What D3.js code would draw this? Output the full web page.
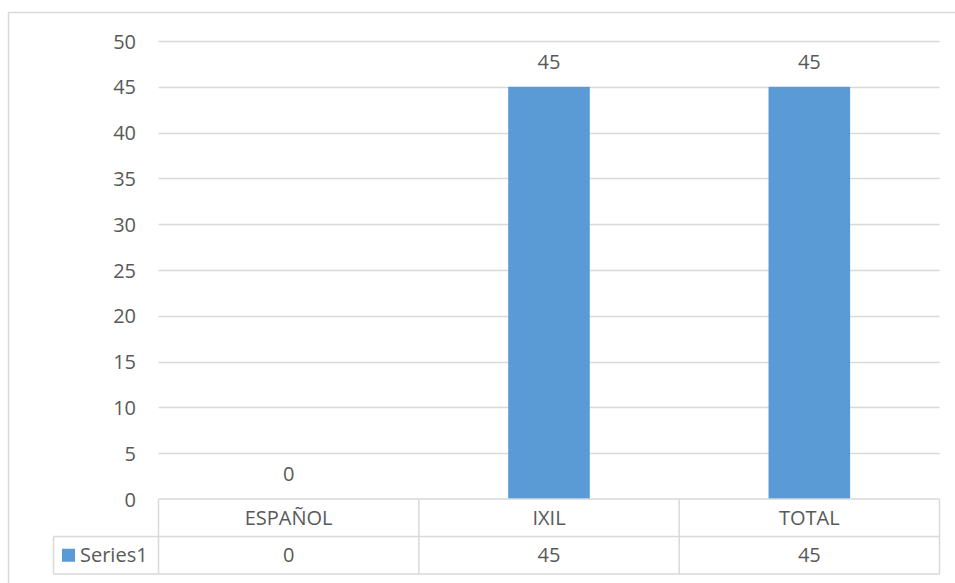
<!DOCTYPE html>
<html>
<head>
<meta charset="utf-8">
<script src="https://cdn.jsdelivr.net/npm/d3@7"></script>
<style>
  html, body { margin: 0; padding: 0; background: #fff; }
  svg { display: block; }
  text { font-family: "Open Sans", "Noto Sans", sans-serif; fill: #595959; }
</style>
</head>
<body>
<svg id="chart" width="955" height="583"></svg>
<script>
// Chart data
const categories = ["ESPAÑOL", "IXIL", "TOTAL"];
const seriesName = "Series1";
const seriesValues = [0, 45, 45];
const yTicks = [0, 5, 10, 15, 20, 25, 30, 35, 40, 45, 50];

const W = 955, H = 583;
const plot = { left: 158.5, right: 939.5, top: 41, bottom: 499 };
const rowH = 37.5;
const legendLeft = 53.5;
const gridColor = "#d9d9d9";
const barColor = "#5b9bd5";
const fontSize = 20;

const svg = d3.select("#chart");

// Chart area frame (right and bottom edges fall outside the view)
svg.append("rect")
  .attr("x", 8.5).attr("y", 12.5)
  .attr("width", W + 20).attr("height", H + 20)
  .attr("fill", "#fff").attr("stroke", gridColor).attr("stroke-width", 1.5);

const x = d3.scaleBand().domain(categories).range([plot.left, plot.right]).padding(0);
const y = d3.scaleLinear().domain([0, 50]).range([plot.bottom, plot.top]);

// Gridlines
svg.append("g").selectAll("line").data(yTicks.filter(t => t > 0)).join("line")
  .attr("x1", plot.left).attr("x2", plot.right)
  .attr("y1", d => Math.round(y(d)) + 0.5).attr("y2", d => Math.round(y(d)) + 0.5)
  .attr("stroke", gridColor).attr("stroke-width", 1.5);

// Y axis labels
const yAxis = d3.axisLeft(y).tickValues(yTicks).tickSize(0).tickPadding(0);
const yg = svg.append("g").attr("transform", `translate(136,0)`).call(yAxis);
yg.select(".domain").remove();
yg.selectAll("text")
  .attr("font-size", fontSize)
  .attr("font-family", "Open Sans, Noto Sans, sans-serif")
  .attr("fill", "#595959")
  .attr("dy", "0.35em");

// Bars (gap width ~219%)
const gapWidth = 2.19;
const barW = x.bandwidth() / (1 + gapWidth);
svg.append("g").selectAll("rect").data(seriesValues).join("rect")
  .attr("x", (d, i) => x(categories[i]) + (x.bandwidth() - barW) / 2)
  .attr("y", d => y(d))
  .attr("width", barW)
  .attr("height", d => y(0) - y(d))
  .attr("fill", barColor);

// Data labels
svg.append("g").selectAll("text").data(seriesValues).join("text")
  .attr("x", (d, i) => x(categories[i]) + x.bandwidth() / 2)
  .attr("y", d => y(d) - 18)
  .attr("text-anchor", "middle")
  .attr("font-size", fontSize)
  .text(d => d);

// Data table
const t0 = plot.bottom, t1 = plot.bottom + rowH, t2 = plot.bottom + 2 * rowH;
const tg = svg.append("g").attr("stroke", gridColor).attr("stroke-width", 1.5);
tg.append("line").attr("x1", plot.left).attr("x2", plot.right).attr("y1", t0).attr("y2", t0);
tg.append("line").attr("x1", legendLeft).attr("x2", plot.right).attr("y1", t1).attr("y2", t1);
tg.append("line").attr("x1", legendLeft).attr("x2", plot.right).attr("y1", t2).attr("y2", t2);
tg.append("line").attr("x1", legendLeft).attr("x2", legendLeft).attr("y1", t1).attr("y2", t2);
const colEdges = categories.map(c => x(c)).concat([plot.right]);
tg.selectAll("line.col").data(colEdges).join("line").attr("class", "col")
  .attr("x1", d => d).attr("x2", d => d).attr("y1", t0).attr("y2", t2);

// Category header row
svg.append("g").selectAll("text").data(categories).join("text")
  .attr("x", d => x(d) + x.bandwidth() / 2)
  .attr("y", (t0 + t1) / 2)
  .attr("dy", "0.35em")
  .attr("text-anchor", "middle")
  .attr("font-size", fontSize)
  .text(d => d);

// Series value row
svg.append("g").selectAll("text").data(seriesValues).join("text")
  .attr("x", (d, i) => x(categories[i]) + x.bandwidth() / 2)
  .attr("y", (t1 + t2) / 2)
  .attr("dy", "0.35em")
  .attr("text-anchor", "middle")
  .attr("font-size", fontSize)
  .text(d => d);

// Legend key in the table
svg.append("rect")
  .attr("x", 62).attr("y", (t1 + t2) / 2 - 6.5)
  .attr("width", 13).attr("height", 13)
  .attr("fill", barColor);
svg.append("text")
  .attr("x", 80).attr("y", (t1 + t2) / 2)
  .attr("dy", "0.35em")
  .attr("font-size", fontSize)
  .text(seriesName);
</script>
</body>
</html>
